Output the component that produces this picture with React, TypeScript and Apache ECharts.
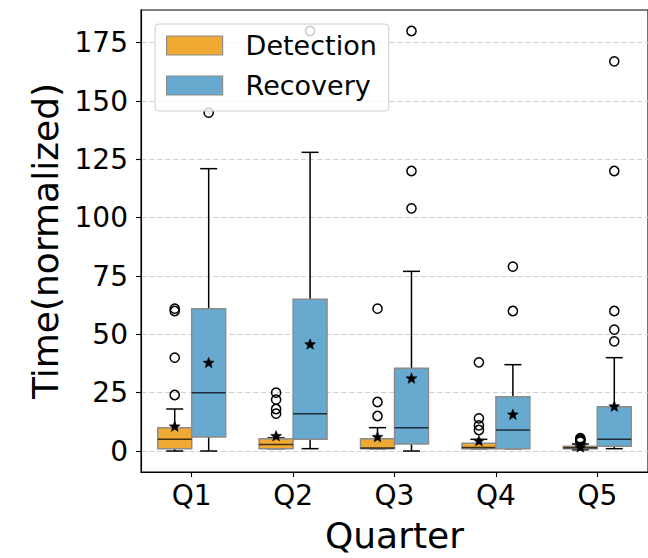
import React, { useEffect, useRef } from 'react';
import * as echarts from 'echarts';

const categories = ['Q1', 'Q2', 'Q3', 'Q4', 'Q5'];
const yTicks = [0, 25, 50, 75, 100, 125, 150, 175];

// [min(whisker), q1, median, q3, max(whisker)]
const detectionBoxes = [
  [0, 1, 5, 10, 18],
  [1, 1, 2.8, 5.2, 5.6],
  [1, 1, 1.3, 5.2, 10],
  [1, 1, 1.5, 3.3, 5],
  [0.5, 1, 1.4, 2, 3],
];
const detectionMeans = [10.4, 6.3, 5.9, 4.2, 1.5];
const detectionOutliers = [
  [24, 40, 60, 61],
  [16, 18, 22, 25],
  [15, 21, 61],
  [9, 11, 14, 38],
  [4, 4.5, 5, 5.5],
];

const recoveryBoxes = [
  [0, 6, 25, 61, 121],
  [1, 5, 16, 65, 128],
  [0, 3, 10, 35.5, 77],
  [1, 1, 9, 23.3, 37],
  [1, 2, 5, 19, 40],
];
const recoveryMeans = [37.7, 45.6, 31, 15.5, 19];
const recoveryOutliers = [
  [145],
  [180],
  [104, 120, 180],
  [60, 79],
  [47, 52, 60, 120, 167],
];

const DET_COLOR = '#F0AA34';
const REC_COLOR = '#67A9CF';
const EDGE = '#8c8c8c';
const BOX_FRAC = 0.335;
const FONT = 'DejaVu Sans';

function starPoints(cx: number, cy: number, rOut: number, rIn: number) {
  const pts: number[][] = [];
  for (let k = 0; k < 10; k++) {
    const a = -Math.PI / 2 + (k * Math.PI) / 5;
    const r = k % 2 === 0 ? rOut : rIn;
    pts.push([cx + r * Math.cos(a), cy + r * Math.sin(a)]);
  }
  return pts;
}

function makeSeries(
  name: string,
  boxes: number[][],
  means: number[],
  outliers: number[][],
  color: string,
  side: number
) {
  return {
    type: 'custom',
    name,
    data: boxes.map((b, i) => [i, ...b, means[i]]),
    encode: { x: 0, y: [1, 2, 3, 4, 5, 6] },
    itemStyle: { color },
    z: 2,
    renderItem: (params: any, api: any) => {
      const i = api.value(0);
      const band = api.size([1, 0])[0];
      const center = api.coord([i, 0])[0];
      const bw = band * BOX_FRAC;
      const cx = center + (side * bw) / 2;
      const y = (v: number) => api.coord([i, v])[1];
      const mn = api.value(1), q1 = api.value(2), med = api.value(3), q3 = api.value(4), mx = api.value(5), mean = api.value(6);
      const lineStyle = { stroke: '#000', lineWidth: 1.5 };
      const children: any[] = [
        { type: 'line', shape: { x1: cx, y1: y(mn), x2: cx, y2: y(q1) }, style: lineStyle },
        { type: 'line', shape: { x1: cx, y1: y(q3), x2: cx, y2: y(mx) }, style: lineStyle },
        { type: 'line', shape: { x1: cx - bw / 4, y1: y(mn), x2: cx + bw / 4, y2: y(mn) }, style: lineStyle },
        { type: 'line', shape: { x1: cx - bw / 4, y1: y(mx), x2: cx + bw / 4, y2: y(mx) }, style: lineStyle },
        {
          type: 'rect',
          shape: { x: cx - bw / 2, y: y(q3), width: bw, height: y(q1) - y(q3) },
          style: { fill: color, stroke: EDGE, lineWidth: 1.5 },
        },
        {
          type: 'line',
          shape: { x1: cx - bw / 2, y1: y(med), x2: cx + bw / 2, y2: y(med) },
          style: { stroke: 'rgba(0,0,0,0.72)', lineWidth: 1.5 },
        },
      ];
      (outliers[params.dataIndex] || []).forEach((v) => {
        children.push({
          type: 'circle',
          shape: { cx, cy: y(v), r: 4.6 },
          style: { fill: 'none', stroke: '#000', lineWidth: 1.5 },
        });
      });
      children.push({
        type: 'polygon',
        shape: { points: starPoints(cx, y(mean), 5.8, 2.5) },
        style: { fill: '#000', stroke: '#000', lineWidth: 0.5 },
      });
      return { type: 'group', children };
    },
  };
}

export default function App() {
  const ref = useRef<HTMLDivElement>(null);
  useEffect(() => {
    const chart = echarts.init(ref.current!, null, { renderer: 'svg' });
    const option: any = {
      animation: false,
      backgroundColor: '#ffffff',
      textStyle: { fontFamily: FONT },
      grid: {
        left: 141,
        top: 10,
        width: 512.5,
        height: 468,
        show: true,
        borderColor: '#000',
        borderWidth: 1.1,
        backgroundColor: 'transparent',
      },
      legend: {
        left: 155,
        top: 24,
        orient: 'vertical',
        itemWidth: 56,
        itemHeight: 19,
        itemGap: 13,
        padding: [8, 12, 12, 11],
        backgroundColor: 'rgba(255,255,255,0.8)',
        borderColor: '#cccccc',
        borderWidth: 1,
        borderRadius: 4,
        selectedMode: false,
        textStyle: { fontSize: 27, color: '#000', fontFamily: FONT, padding: [0, 0, 0, 18] },
        data: [
          { name: 'Detection', icon: 'rect', itemStyle: { color: DET_COLOR, borderColor: EDGE, borderWidth: 1.2 } },
          { name: 'Recovery', icon: 'rect', itemStyle: { color: REC_COLOR, borderColor: EDGE, borderWidth: 1.2 } },
        ],
      },
      xAxis: {
        type: 'category',
        data: categories,
        boundaryGap: true,
        name: 'Quarter',
        nameLocation: 'middle',
        nameGap: 45,
        nameTextStyle: { fontSize: 36, color: '#000', fontFamily: FONT },
        axisLine: { show: true, onZero: false, lineStyle: { color: '#000', width: 1.1 } },
        axisTick: { show: true, alignWithLabel: true, length: 5, lineStyle: { color: '#000', width: 1.1 } },
        axisLabel: { fontSize: 28, color: '#000', margin: 9, fontFamily: FONT },
        splitLine: { show: false },
      },
      yAxis: {
        type: 'value',
        min: -9,
        max: 189,
        name: 'Time(normalized)',
        nameLocation: 'middle',
        nameRotate: 90,
        nameGap: 77,
        nameTextStyle: { fontSize: 36, color: '#000', fontFamily: FONT },
        axisLine: { show: true, lineStyle: { color: '#000', width: 1.1 } },
        axisTick: { show: true, length: 5, customValues: yTicks, lineStyle: { color: '#000', width: 1.1 } },
        axisLabel: { fontSize: 28, color: '#000', margin: 13, customValues: yTicks, fontFamily: FONT },
        splitLine: { show: true, lineStyle: { color: '#d0d0d0', type: [5, 3], width: 1 } },
      },
      series: [
        makeSeries('Detection', detectionBoxes, detectionMeans, detectionOutliers, DET_COLOR, -1),
        makeSeries('Recovery', recoveryBoxes, recoveryMeans, recoveryOutliers, REC_COLOR, 1),
      ],
    };
    chart.setOption(option);
    return () => chart.dispose();
  }, []);
  return <div ref={ref} style={{ position: 'fixed', left: 0, top: 0, width: 648, height: 558 }} />;
}
